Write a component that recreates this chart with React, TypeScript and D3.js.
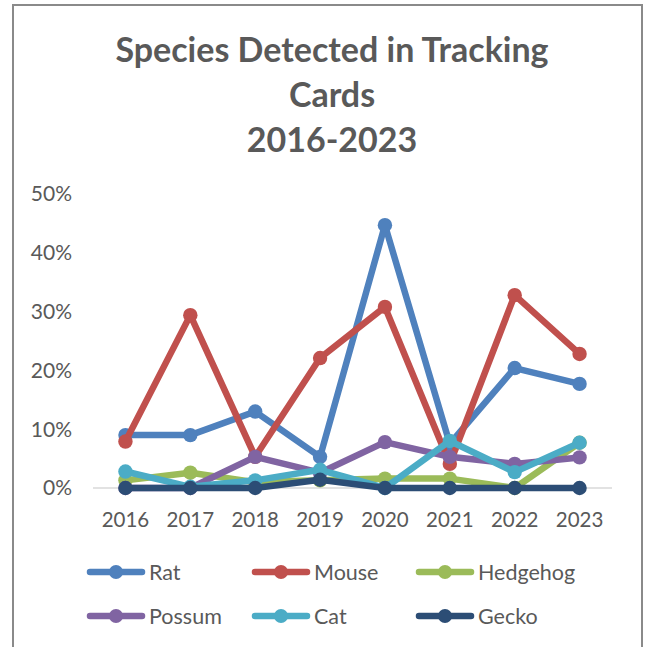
import React from "react";
import * as d3 from "d3";

const years = ["2016", "2017", "2018", "2019", "2020", "2021", "2022", "2023"];

const rat = [0.09, 0.09, 0.13, 0.053, 0.447, 0.075, 0.204, 0.177];
const mouse = [0.079, 0.294, 0.053, 0.221, 0.308, 0.041, 0.328, 0.228];
const hedgehog = [0.013, 0.026, 0.01, 0.013, 0.016, 0.016, 0.0, 0.077];
const possum = [0.0, 0.0, 0.053, 0.026, 0.078, 0.053, 0.041, 0.052];
const cat = [0.028, 0.002, 0.013, 0.031, 0.0, 0.08, 0.027, 0.077];
const gecko = [0.0, 0.0, 0.0, 0.014, 0.0, 0.0, 0.0, 0.0];

const seriesNames = ["Rat", "Mouse", "Hedgehog", "Possum", "Cat", "Gecko"];
const seriesValues = [rat, mouse, hedgehog, possum, cat, gecko];
const seriesColors = ["#4f81bd", "#c0504d", "#9bbb59", "#8064a2", "#4bacc6", "#2c4d75"];

const yTicks = [0, 0.1, 0.2, 0.3, 0.4, 0.5];
const titleLines = ["Species Detected in Tracking", "Cards", "2016-2023"];

const W = 648;
const H = 647;
const FONT = "Lato, 'Open Sans', sans-serif";
const TEXT = "#595959";

export default function App() {
  const x = d3.scalePoint<string>().domain(years).range([93, 612]).padding(0.5);
  const y = d3.scaleLinear().domain([0, 0.5]).range([488, 194]);
  const line = d3
    .line<number>()
    .x((_, i) => x(years[i]) as number)
    .y((d) => y(d));
  const pct = d3.format(".0%");

  const legendCols = [116, 281, 445];
  const legendRows = [572, 616];

  return (
    <svg
      width={W}
      height={H}
      style={{ position: "absolute", left: 0, top: 0, background: "#fff" }}
      fontFamily={FONT}
    >
      <rect x={0} y={0} width={W} height={H} fill="#fff" />
      <path d={`M13,${H + 5} V5 H642 V${H + 5}`} fill="none" stroke="#8a8a8a" strokeWidth={2} />

      {titleLines.map((t, i) => (
        <text
          key={t}
          x={332}
          y={50 + i * 45}
          dy="0.36em"
          textAnchor="middle"
          fontSize={34}
          fontWeight="bold"
          fill={TEXT}
        >
          {t}
        </text>
      ))}

      {yTicks.map((t) => (
        <text key={t} x={72} y={y(t)} dy="0.35em" textAnchor="end" fontSize={21} fill={TEXT}>
          {pct(t)}
        </text>
      ))}

      <line x1={93} x2={612} y1={y(0)} y2={y(0)} stroke="#d9d9d9" strokeWidth={1.5} />

      {years.map((yr) => (
        <text key={yr} x={x(yr)} y={520} dy="0.35em" textAnchor="middle" fontSize={20.5} fill={TEXT}>
          {yr}
        </text>
      ))}

      {seriesValues.map((vals, si) => (
        <g key={seriesNames[si]}>
          <path
            d={line(vals) || ""}
            fill="none"
            stroke={seriesColors[si]}
            strokeWidth={6.5}
            strokeLinejoin="round"
            strokeLinecap="round"
          />
          {vals.map((v, i) => (
            <circle key={i} cx={x(years[i])} cy={y(v)} r={7.2} fill={seriesColors[si]} />
          ))}
        </g>
      ))}

      {seriesNames.map((name, si) => {
        const cx = legendCols[si % 3];
        const cy = legendRows[Math.floor(si / 3)];
        return (
          <g key={name}>
            <line
              x1={cx - 26}
              x2={cx + 26}
              y1={cy}
              y2={cy}
              stroke={seriesColors[si]}
              strokeWidth={6.5}
              strokeLinecap="round"
            />
            <circle cx={cx} cy={cy} r={7} fill={seriesColors[si]} />
            <text x={cx + 33} y={cy} dy="0.35em" fontSize={21.5} fill={TEXT}>
              {name}
            </text>
          </g>
        );
      })}
    </svg>
  );
}
